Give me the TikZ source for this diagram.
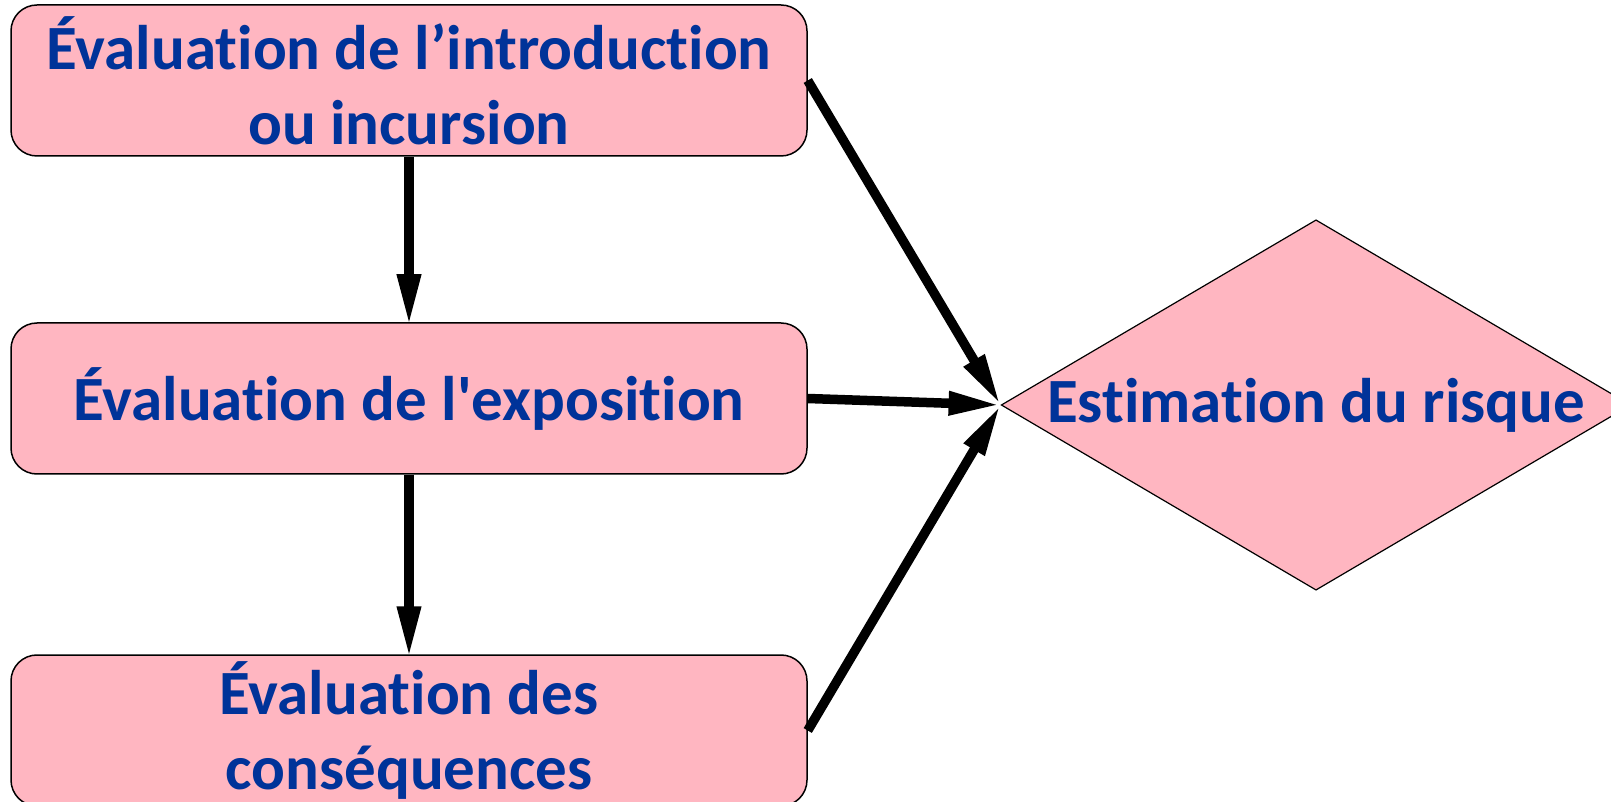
\documentclass[tikz,border=0pt]{standalone}
\usepackage{fontspec}
\setmainfont{Carlito}[Ligatures={NoCommon}]
\usetikzlibrary{arrows.meta,shapes.geometric}
\definecolor{boxpink}{HTML}{FFB6C1}
\definecolor{txtblue}{HTML}{003399}
\begin{document}
\begin{tikzpicture}[x=1pt,y=1pt,
  evalbox/.style={draw=black,line width=1.5pt,fill=boxpink,rounded corners=26pt,
    minimum width=796pt,minimum height=151pt,inner sep=0pt,align=center,
    text=txtblue,font=\fontsize{63}{75}\selectfont\bfseries},
  riskshape/.style={diamond,aspect=1.70,draw=black,line width=1.2pt,fill=boxpink,
    minimum width=626pt,minimum height=368pt,inner sep=0pt,
    text=txtblue,font=\fontsize{63}{75}\selectfont\bfseries},
  flow/.style={line width=9.5pt,-{Triangle[length=52pt,width=22pt]}}]
\useasboundingbox (0,0) rectangle (1611,801);
\node[evalbox] (intro) at (409,720.5) {Évaluation de l’introduction\\ou incursion};
\node[evalbox] (expo) at (409,402.5) {Évaluation de l\textquotesingle exposition};
\node[evalbox] (cons) at (409,70.5) {Évaluation des\\conséquences};
\node[riskshape] (risk) at (1316,396) {Estimation du risque};
\draw[flow,shorten >=-4pt] (intro.south) -- (expo.north);
\draw[flow,shorten >=-4pt] (expo.south) -- (cons.north);
\draw[flow] (intro.east) -- (risk.west);
\draw[flow] (expo.east) -- (risk.west);
\draw[flow] (cons.east) -- (risk.west);
\end{tikzpicture}
\end{document}
